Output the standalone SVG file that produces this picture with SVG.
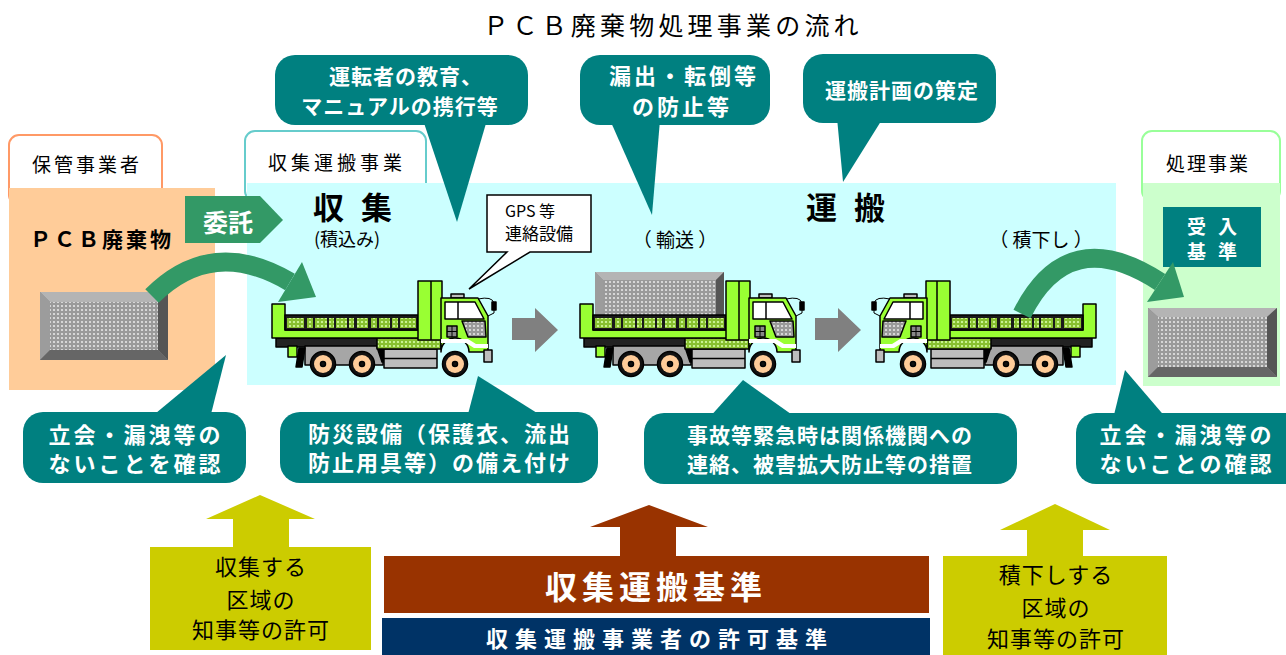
<svg xmlns="http://www.w3.org/2000/svg" width="1286" height="655" viewBox="0 0 1286 655">
<style>
text{font-family:"Noto Sans CJK JP","Noto Sans",sans-serif;dominant-baseline:central}
.c{text-anchor:middle}
.w{fill:#fff;font-weight:bold}
.b{font-weight:bold}
.tl{fill:#008080}
.tab{fill:#fff;stroke-width:2}
.ln{stroke:#000;stroke-width:1.5}
</style>
<defs>
<pattern id="dg" width="4" height="4" patternUnits="userSpaceOnUse"><rect width="4" height="4" fill="#88C030"/><circle cx="2" cy="2" r="1.1" fill="#D8FFA8"/></pattern>
<pattern id="gd" width="4" height="4" patternUnits="userSpaceOnUse"><rect width="4" height="4" fill="#9A9A9A"/><circle cx="2" cy="2" r="1.1" fill="#E6E6E6"/></pattern>
<g id="truck" stroke="#000" stroke-width="1.5" stroke-linejoin="round">
<rect x="276" y="338" width="102" height="9" fill="#222"/>
<rect x="288" y="346" width="9" height="11" fill="#99FF33"/>
<rect x="305" y="346" width="78" height="19" fill="#A6A6A6"/>
<polygon points="299,348 305,348 302,367 296,367" fill="#000"/>
<polygon points="377,347 383,347 388,362 382,362" fill="#000"/>
<rect x="384" y="349" width="53" height="19" fill="#BDBDBD"/>
<line x1="384" y1="358.5" x2="437" y2="358.5"/>
<rect x="377" y="338" width="64" height="11" fill="url(#dg)"/>
<path d="M272,304 H285 V330 H420 V338 H272 Z" fill="#99FF33"/>
<rect x="285" y="315" width="133" height="15" fill="#1A1A1A"/>
<g fill="url(#dg)" stroke="none">
<rect x="287" y="318" width="17" height="10"/><rect x="307" y="318" width="6" height="10"/>
<rect x="315" y="318" width="12" height="10"/><rect x="329" y="318" width="5" height="10"/>
<rect x="336" y="318" width="11" height="10"/><rect x="349" y="318" width="5" height="10"/>
<rect x="357" y="318" width="11" height="10"/><rect x="371" y="318" width="6" height="10"/>
<rect x="379" y="318" width="11" height="10"/><rect x="392" y="318" width="6" height="10"/>
<rect x="400" y="318" width="16" height="10"/>
</g>
<rect x="418" y="281" width="24" height="59" fill="#99FF33"/>
<line x1="431" y1="281" x2="431" y2="340"/>
<rect x="451" y="294" width="13" height="4" fill="#BDBDBD"/>
<path d="M441,298 H478 L488,316 V352 H469 A14,14 0 0 0 441,352 Z" fill="#99FF33"/>
<polygon points="445,302 475,302 484,319 445,319" fill="#fff"/>
<line x1="458" y1="302" x2="458" y2="319"/>
<polygon points="462,321 485,321 486,337 468,337" fill="url(#gd)"/>
<rect x="447" y="326" width="10" height="11" fill="#888"/>
<path d="M452,326 V337 M447,331.5 H457" stroke-width="1"/>
<polygon points="441,339 468,339 476,344 488,344 488,348 474,348 466,343 441,343" fill="#fff" stroke="none"/>
<rect x="484" y="350" width="8" height="12" fill="#BDBDBD"/>
<path d="M478,299 Q492,296 494,303 V313 L488,316" fill="none" stroke-width="1"/>
<rect x="492" y="302" width="4" height="8" fill="#000"/>
<g>
<circle cx="323" cy="364" r="12.5" fill="#111"/><circle cx="323" cy="364" r="9" fill="#FFCC99" stroke="none"/><circle cx="323" cy="364" r="2.5" fill="#111"/>
<circle cx="362" cy="364" r="12.5" fill="#111"/><circle cx="362" cy="364" r="9" fill="#FFCC99" stroke="none"/><circle cx="362" cy="364" r="2.5" fill="#111"/>
<circle cx="455" cy="364" r="12.5" fill="#111"/><circle cx="455" cy="364" r="9" fill="#FFCC99" stroke="none"/><circle cx="455" cy="364" r="2.5" fill="#111"/>
</g>
</g>
</defs>

<rect width="1286" height="655" fill="#fff"/>

<text class="c" x="673" y="24" font-size="25" letter-spacing="4.2">ＰＣＢ廃棄物処理事業の流れ</text>

<g id="holder">
<rect class="tab" x="9" y="135" width="153" height="70" rx="10" stroke="#FF9966"/>
<rect x="9" y="188" width="206" height="202" fill="#FFCC99"/>
<text class="c" x="87" y="163" font-size="19" letter-spacing="3">保管事業者</text>
<text class="c b" x="102" y="238" font-size="21" letter-spacing="3">ＰＣＢ廃棄物</text>
</g>

<g id="package-left">
<rect x="40" y="292" width="128" height="68" fill="#888"/>
<polygon points="40,292 168,292 158,302 50,302" fill="#B4B4B4"/>
<polygon points="40,292 50,302 50,350 40,360" fill="#9C9C9C"/>
<polygon points="168,292 168,360 158,350 158,302" fill="#555"/>
<polygon points="40,360 168,360 158,350 50,350" fill="#666"/>
<rect x="50" y="302" width="108" height="48" fill="url(#gd)"/>
</g>

<g id="collector">
<rect class="tab" x="245" y="131" width="181" height="70" rx="10" stroke="#66CCCC"/>
<rect x="247" y="183" width="869" height="202" fill="#CCFFFF"/>
<text class="c" x="337" y="161" font-size="19" letter-spacing="4">収集運搬事業</text>
<text class="b" x="313" y="205" font-size="31" letter-spacing="17">収集</text>
<text class="c" x="347" y="238" font-size="18">(積込み)</text>
<text class="b" x="806" y="205" font-size="31" letter-spacing="17">運搬</text>
<text class="c" x="675" y="238" font-size="19">（ 輸送 ）</text>
<text class="c" x="1041" y="238" font-size="19">（ 積下し ）</text>
</g>

<g id="processor">
<rect class="tab" x="1142" y="131" width="138" height="70" rx="10" stroke="#99FF99"/>
<rect x="1143" y="183" width="137" height="203" fill="#CCFFCC"/>
<text class="c" x="1208" y="162" font-size="19" letter-spacing="2">処理事業</text>
<rect x="1163" y="207" width="98" height="60" class="tl"/>
<text class="c w" x="1218" y="225" font-size="19" letter-spacing="12">受入</text>
<text class="c w" x="1218" y="250" font-size="19" letter-spacing="12">基準</text>
</g>

<g id="package-right">
<rect x="1148" y="308" width="129" height="69" fill="#888"/>
<polygon points="1148,308 1277,308 1267,317 1158,317" fill="#B4B4B4"/>
<polygon points="1148,308 1158,317 1158,367 1148,377" fill="#9C9C9C"/>
<polygon points="1277,308 1277,377 1267,367 1267,317" fill="#555"/>
<polygon points="1148,377 1277,377 1267,367 1158,367" fill="#666"/>
<rect x="1158" y="317" width="109" height="50" fill="url(#gd)"/>
</g>

<g id="entrust">
<polygon points="185,196 260,196 283,220 260,243 185,243" fill="#339966"/>
<text class="c w" x="228" y="221" font-size="25">委託</text>
</g>

<g id="truck-load">
<use href="#truck"/>
</g>
<g id="truck-transport">
<rect x="595" y="272" width="129" height="46" fill="#888"/>
<polygon points="595,272 724,272 716,280 603,280" fill="#B4B4B4"/>
<polygon points="595,272 603,280 603,318 595,318" fill="#9C9C9C"/>
<polygon points="724,272 724,318 716,318 716,280" fill="#555"/>
<rect x="603" y="280" width="113" height="38" fill="url(#gd)"/>
<use href="#truck" transform="translate(308,0)"/>
</g>
<g id="truck-unload">
<use href="#truck" transform="matrix(-1,0,0,1,1368,0)"/>
</g>

<g id="gps">
<polygon points="487,195 591,195 591,252 530,252 469,289 507,252 487,252" fill="#fff" stroke="#000" stroke-width="1.5" stroke-linejoin="miter"/>
<text x="505" y="210" font-size="16">GPS 等</text>
<text x="505" y="232" font-size="17">連絡設備</text>
</g>

<g id="connectors">
<polygon points="512,318 535,318 535,308 558,330 535,352 535,340 512,340" fill="#808080"/>
<polygon points="815,318 838,318 838,308 861,330 838,352 838,340 815,340" fill="#808080"/>
<path d="M152,296 Q212,236 290,282" fill="none" stroke="#339966" stroke-width="19"/>
<polygon points="278,302 302,262 316,297" fill="#339966"/>
<path d="M1022,314 Q1068,222 1160,282" fill="none" stroke="#339966" stroke-width="19"/>
<polygon points="1147,302 1173,262 1184,297" fill="#339966"/>
</g>

<g id="note-education">
<rect class="tl" x="275" y="55" width="253" height="70" rx="20"/>
<polygon class="tl" points="423,120 487,120 457,222"/>
<text class="c w" x="406" y="75" font-size="21" letter-spacing="1">運転者の教育、</text>
<text class="c w" x="400" y="105" font-size="21" letter-spacing="1">マニュアルの携行等</text>
</g>

<g id="note-leak">
<rect class="tl" x="580" y="55" width="190" height="70" rx="20"/>
<polygon class="tl" points="610,120 660,120 652,215"/>
<text class="c w" x="684" y="74" font-size="22" letter-spacing="3">漏出・転倒等</text>
<text class="c w" x="682" y="105" font-size="22" letter-spacing="3">の防止等</text>
</g>

<g id="note-plan">
<rect class="tl" x="803" y="54" width="193" height="69" rx="20"/>
<polygon class="tl" points="837,118 883,118 843,182"/>
<text class="c w" x="902" y="89" font-size="21" letter-spacing="1">運搬計画の策定</text>
</g>

<g id="note-check-left">
<rect class="tl" x="23" y="412" width="223" height="71" rx="20"/>
<polygon class="tl" points="150,418 210,418 226,355"/>
<text class="c w" x="136" y="433" font-size="22" letter-spacing="3">立会・漏洩等の</text>
<text class="c w" x="136" y="462" font-size="22" letter-spacing="3">ないことを確認</text>
</g>

<g id="note-disaster">
<rect class="tl" x="280" y="412" width="318" height="71" rx="20"/>
<polygon class="tl" points="467,418 545,418 478,376"/>
<text class="c w" x="440" y="432" font-size="22" letter-spacing="2">防災設備（保護衣、流出</text>
<text class="c w" x="440" y="461" font-size="22" letter-spacing="2">防止用具等）の備え付け</text>
</g>

<g id="note-emergency">
<rect class="tl" x="644" y="413" width="373" height="71" rx="20"/>
<polygon class="tl" points="708,419 798,419 743,380"/>
<text class="c w" x="830" y="434" font-size="21" letter-spacing="1">事故等緊急時は関係機関への</text>
<text class="c w" x="830" y="463" font-size="21" letter-spacing="1">連絡、被害拡大防止等の措置</text>
</g>

<g id="note-check-right">
<rect class="tl" x="1076" y="413" width="230" height="71" rx="20"/>
<polygon class="tl" points="1113,419 1167,419 1125,370"/>
<text class="c w" x="1187" y="433" font-size="22" letter-spacing="3">立会・漏洩等の</text>
<text class="c w" x="1187" y="462" font-size="22" letter-spacing="3">ないことの確認</text>
</g>

<g id="permit-collect">
<polygon points="150,547 233,547 233,519 206,519 260,495 315,519 289,519 289,547 371,547 371,650 150,650" fill="#CCCC00"/>
<text class="c" x="261" y="565" font-size="22" letter-spacing="1">収集する</text>
<text class="c" x="261" y="598" font-size="22" letter-spacing="1">区域の</text>
<text class="c" x="261" y="628" font-size="22" letter-spacing="1">知事等の許可</text>
</g>

<g id="standard">
<polygon points="384,556 620,556 620,527 590,527 649,505 708,527 676,527 676,556 929,556 929,613 384,613" fill="#993300"/>
<text class="c w" x="656" y="585" font-size="32" letter-spacing="5">収集運搬基準</text>
<rect x="382" y="618" width="548" height="40" fill="#003366"/>
<text class="c w" x="660" y="637" font-size="22" letter-spacing="7">収集運搬事業者の許可基準</text>
</g>

<g id="permit-unload">
<polygon points="943,556 1027,556 1027,530 1000,530 1055,504 1110,530 1083,530 1083,556 1167,556 1167,658 943,658" fill="#CCCC00"/>
<text class="c" x="1056" y="573" font-size="22" letter-spacing="1">積下しする</text>
<text class="c" x="1056" y="606" font-size="22" letter-spacing="1">区域の</text>
<text class="c" x="1056" y="637" font-size="22" letter-spacing="1">知事等の許可</text>
</g>
</svg>
